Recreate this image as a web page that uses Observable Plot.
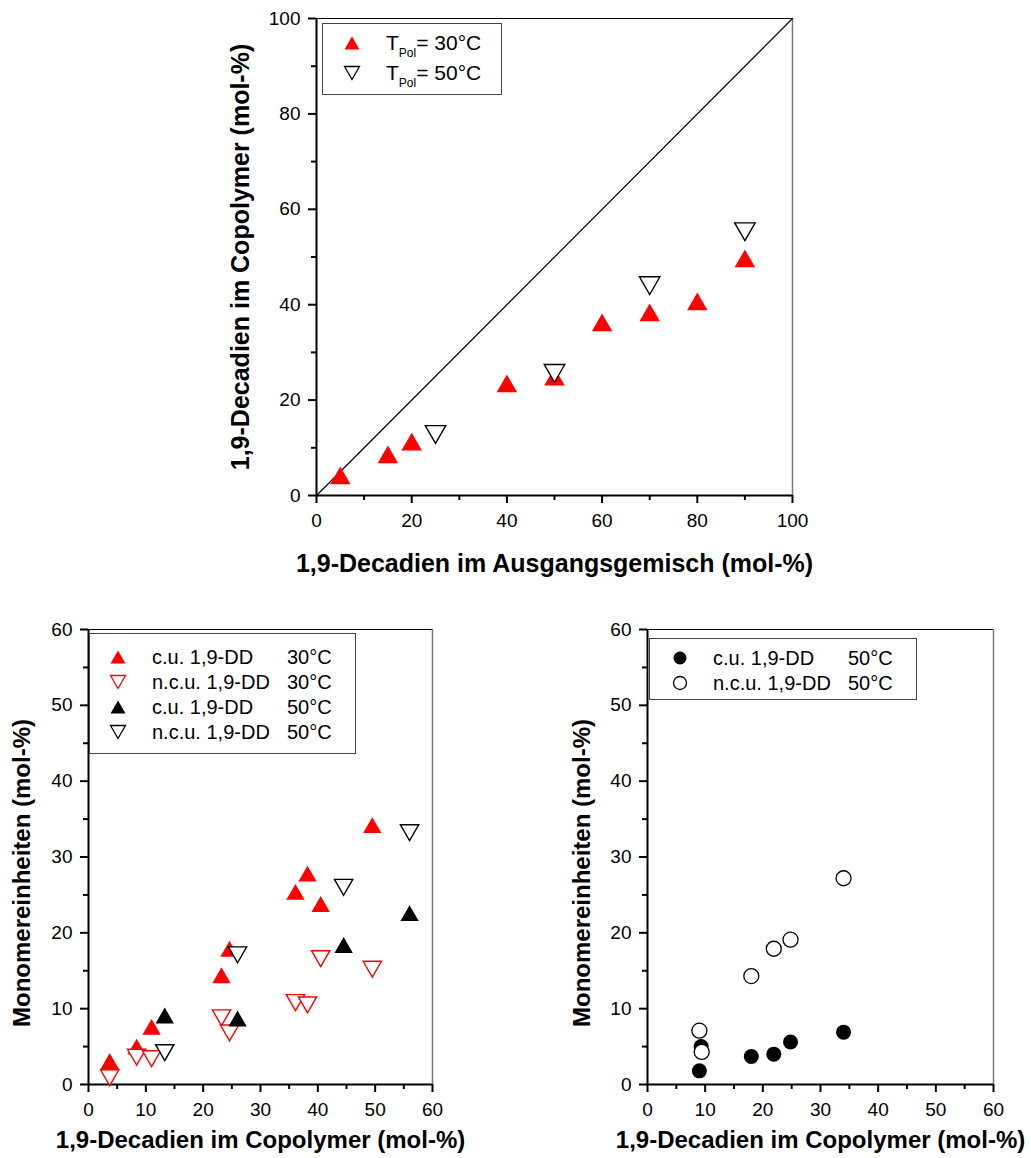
<!DOCTYPE html>
<html><head><meta charset="utf-8">
<script src="https://cdn.jsdelivr.net/npm/d3@7"></script>
<script src="https://cdn.jsdelivr.net/npm/@observablehq/plot@0.6"></script>
<style>
body{margin:0;background:#fff;font-family:"Liberation Sans",Arial,sans-serif;}
#root{position:relative;width:1031px;height:1158px;overflow:hidden;background:#fff;}
#root svg{position:absolute;}
.legend{position:absolute;border:1.5px solid #444;background:#fff;color:#000;box-sizing:border-box;z-index:5;}
.legend .mk{position:absolute;width:20px;height:20px;}
.legend .tx{position:absolute;white-space:nowrap;height:24px;line-height:24px;}
.sub{font-size:12px;position:relative;top:7px;}
</style></head><body><div id="root"></div><script>
// ---------- data ----------
// top panel: feed composition vs copolymer composition
const topX30 = [5, 15, 20, 40, 50, 60, 70, 80, 90];
const topY30 = [4.2, 8.6, 11.3, 23.5, 24.9, 36.3, 38.4, 40.7, 49.7];
const topX50 = [25, 50, 70, 90];
const topY50 = [12.8, 25.6, 44.0, 55.3];
const diagonal = [0, 100];
const topLegendTemps = ["30°C", "50°C"];

// bottom-left panel
const blX30 = [3.7, 8.4, 11.0, 23.2, 24.6, 36.1, 38.2, 40.5, 49.5];
const blCU30 = [3.1, 5.0, 7.6, 14.4, 17.9, 25.4, 27.8, 23.8, 34.2];
const blNCU30 = [0.9, 3.6, 3.4, 8.8, 6.8, 10.8, 10.5, 16.6, 15.2];
const blX50 = [13.3, 26.0, 44.5, 56.0];
const blCU50 = [9.1, 8.7, 18.4, 22.6];
const blNCU50 = [4.2, 17.1, 26.0, 33.2];
const blLegendNames = ["c.u. 1,9-DD", "n.c.u. 1,9-DD", "c.u. 1,9-DD", "n.c.u. 1,9-DD"];
const blLegendTemps = ["30°C", "30°C", "50°C", "50°C"];

// bottom-right panel
const brX = [9.0, 9.3, 18.0, 21.9, 24.8, 34.0];
const brCU50 = [1.8, 5.0, 3.7, 4.0, 5.6, 6.9];
const brXn = [9.0, 9.4, 18.0, 21.9, 24.8, 34.0];
const brNCU50 = [7.1, 4.3, 14.3, 17.9, 19.1, 27.2];
const brLegendNames = ["c.u. 1,9-DD", "n.c.u. 1,9-DD"];
const brLegendTemps = ["50°C", "50°C"];

// ticks
const topTicks = [0, 20, 40, 60, 80, 100];
const topMinor = [10, 30, 50, 70, 90];
const botTicks = [0, 10, 20, 30, 40, 50, 60];
const botMinor = [5, 15, 25, 35, 45, 55];

const titleFeed = "1,9-Decadien im Ausgangsgemisch (mol-%)";
const titleCopo = "1,9-Decadien im Copolymer (mol-%)";
const titleUnits = "Monomereinheiten (mol-%)";

// ---------- helpers ----------
const RED = "#ff0000";
const triUp = {draw(ctx, size){const s=Math.sqrt(size*4/Math.sqrt(3)), h=s*Math.sqrt(3)/2;
  ctx.moveTo(0,-h/2); ctx.lineTo(s/2,h/2); ctx.lineTo(-s/2,h/2); ctx.closePath();}};
const triDown = {draw(ctx, size){const s=Math.sqrt(size*4/Math.sqrt(3)), h=s*Math.sqrt(3)/2;
  ctx.moveTo(0,h/2); ctx.lineTo(s/2,-h/2); ctx.lineTo(-s/2,-h/2); ctx.closePath();}};
const zip = (xs, ys) => xs.map((x, i) => ({x, y: ys[i]}));

function panel(o){
  const [x0,x1] = o.xdom, [y0,y1] = o.ydom;
  return Plot.plot({
    width:o.width, height:o.height,
    marginLeft:o.ml, marginRight:o.mr, marginTop:o.mt, marginBottom:o.mb,
    x:{domain:o.xdom}, y:{domain:o.ydom},
    style:{fontFamily:"Liberation Sans, Arial, sans-serif", fontSize:"19px", color:"#000", background:"transparent", overflow:"visible"},
    marks:[
      Plot.axisX({ticks:o.xticks, tickSize:8, strokeWidth:2, tickPadding:10, label:null, fontSize:19}),
      Plot.axisX({ticks:o.xminor, tickSize:5, strokeWidth:2, tickFormat:()=>"", label:null}),
      Plot.axisY({ticks:o.yticks, tickSize:8, strokeWidth:2, tickPadding:8, label:null, fontSize:19}),
      Plot.axisY({ticks:o.yminor, tickSize:5, strokeWidth:2, tickFormat:()=>"", label:null}),
      Plot.ruleY([y1], {stroke:"#000", strokeWidth:1}),
      Plot.ruleX([x1], {stroke:"#777", strokeWidth:1.5}),
      Plot.ruleX([x0], {stroke:"#000", strokeWidth:2}),
      Plot.ruleY([y0], {stroke:"#000", strokeWidth:2}),
      ...o.marks,
      Plot.text([o.xtitle], {text:d=>d, frameAnchor:"bottom", textAnchor:"middle", lineAnchor:"middle", dy:o.xdy, fontWeight:"bold", fontSize:o.tfs}),
      Plot.text([o.ytitle], {text:d=>d, frameAnchor:"left", textAnchor:"middle", lineAnchor:"middle", dx:o.ydx, dy:o.ydy || 0, rotate:-90, fontWeight:"bold", fontSize:o.tfs})
    ]
  });
}

const root = document.getElementById("root");
function place(svg, left, top){ svg.style.left = left+"px"; svg.style.top = top+"px"; root.appendChild(svg); }

// ---------- top ----------
place(panel({
  width:1031, height:600, ml:316, mr:239, mt:18, mb:105,
  xdom:[0,100], ydom:[0,100], xticks:topTicks, xminor:topMinor, yticks:topTicks, yminor:topMinor,
  xtitle:titleFeed, ytitle:titleCopo, xdy:68, ydx:-76, tfs:25,
  marks:[
    Plot.line(zip(diagonal, diagonal), {x:"x", y:"y", stroke:"#000", strokeWidth:1.2}),
    Plot.dot(zip(topX30, topY30), {x:"x", y:"y", symbol:triUp, r:7.6, fill:RED, stroke:"none"}),
    Plot.dot(zip(topX50, topY50), {x:"x", y:"y", symbol:triDown, r:7.6, fill:"#fff", stroke:"#000", strokeWidth:1.4})
  ]
}), 0, 0);

// ---------- bottom left ----------
place(panel({
  width:515, height:558, ml:88, mr:83, mt:29, mb:74,
  xdom:[0,60], ydom:[0,60], xticks:botTicks, xminor:botMinor, yticks:botTicks, yminor:botMinor,
  xtitle:titleCopo, ytitle:titleUnits, xdy:56, ydx:-66, ydy:16, tfs:24,
  marks:[
    Plot.dot(zip(blX30, blCU30), {x:"x", y:"y", symbol:triUp, r:6.8, fill:RED, stroke:"none"}),
    Plot.dot(zip(blX30, blNCU30), {x:"x", y:"y", symbol:triDown, r:6.8, fill:"#fff", stroke:RED, strokeWidth:1.4}),
    Plot.dot(zip(blX50, blCU50), {x:"x", y:"y", symbol:triUp, r:6.8, fill:"#000", stroke:"none"}),
    Plot.dot(zip(blX50, blNCU50), {x:"x", y:"y", symbol:triDown, r:6.8, fill:"#fff", stroke:"#000", strokeWidth:1.4})
  ]
}), 0, 600);

// ---------- bottom right ----------
place(panel({
  width:516, height:558, ml:132, mr:38, mt:29, mb:74,
  xdom:[0,60], ydom:[0,60], xticks:botTicks, xminor:botMinor, yticks:botTicks, yminor:botMinor,
  xtitle:titleCopo, ytitle:titleUnits, xdy:56, ydx:-65, ydy:16, tfs:24,
  marks:[
    Plot.dot(zip(brX, brCU50), {x:"x", y:"y", r:7.5, fill:"#000", stroke:"none"}),
    Plot.dot(zip(brXn, brNCU50), {x:"x", y:"y", r:7.5, fill:"#fff", stroke:"#000", strokeWidth:1.3})
  ]
}), 515, 600);

// ---------- legends ----------
function symSvg(kind, fill, stroke){
  const s = 15, h = s*Math.sqrt(3)/2, c = 10;
  let shape;
  if (kind === "up") shape = `<polygon points="${c},${c-h/2} ${c+s/2},${c+h/2} ${c-s/2},${c+h/2}" fill="${fill}" stroke="${stroke}" stroke-width="1.3"/>`;
  else if (kind === "down") shape = `<polygon points="${c},${c+h/2} ${c+s/2},${c-h/2} ${c-s/2},${c-h/2}" fill="${fill}" stroke="${stroke}" stroke-width="1.3"/>`;
  else shape = `<circle cx="${c}" cy="${c}" r="6.5" fill="${fill}" stroke="${stroke}" stroke-width="1.3"/>`;
  return `<svg class="mk" viewBox="0 0 20 20" width="20" height="20">${shape}</svg>`;
}
function legend(box, rows, fontSize){
  const d = document.createElement("div");
  d.className = "legend";
  Object.assign(d.style, {left:box.l+"px", top:box.t+"px", width:box.w+"px", height:box.h+"px", fontSize:fontSize+"px"});
  rows.forEach(r => {
    const m = document.createElement("div");
    m.innerHTML = symSvg(r.kind, r.fill, r.stroke);
    const sv = m.firstChild; sv.style.left = (r.mx-10)+"px"; sv.style.top = (r.y-10)+"px";
    d.appendChild(sv);
    r.texts.forEach(t => {
      const s = document.createElement("div");
      s.className = "tx"; s.style.left = t.x+"px"; s.style.top = (r.y-12)+"px";
      s.innerHTML = t.html; d.appendChild(s);
    });
  });
  root.appendChild(d);
}
legend({l:322, t:23, w:180, h:72}, topLegendTemps.map((tp, i) => ({
  kind: i===0 ? "up" : "down", fill: i===0 ? RED : "#fff", stroke: i===0 ? "none" : "#000",
  mx:29, y: i===0 ? 19 : 49,
  texts:[{x:63, html:`T<span class="sub">Pol</span>= ${tp}`}]
})), 21);

const blKinds = [["up",RED,"none"],["down","#fff",RED],["up","#000","none"],["down","#fff","#000"]];
legend({l:89, t:633, w:267, h:121}, blLegendNames.map((nm, i) => ({
  kind: blKinds[i][0], fill: blKinds[i][1], stroke: blKinds[i][2],
  mx:28, y: 23 + i*25,
  texts:[{x:62, html:nm}, {x:197, html:blLegendTemps[i]}]
})), 20);

const brKinds = [["circle","#000","none"],["circle","#fff","#000"]];
legend({l:649, t:638, w:268, h:62}, brLegendNames.map((nm, i) => ({
  kind: brKinds[i][0], fill: brKinds[i][1], stroke: brKinds[i][2],
  mx:30, y: 19 + i*25,
  texts:[{x:63, html:nm}, {x:198, html:brLegendTemps[i]}]
})), 20);
</script></body></html>
